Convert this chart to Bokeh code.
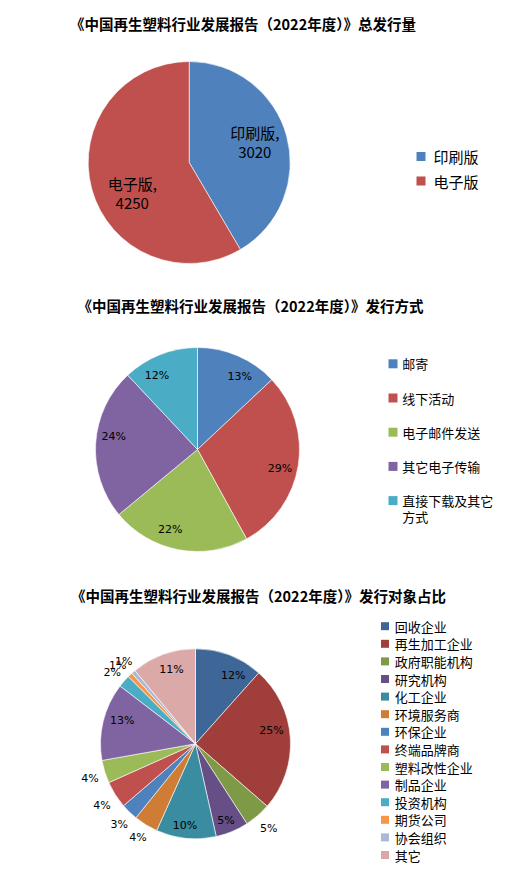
import math
from bokeh.plotting import figure
from bokeh.models import Range1d
from bokeh.core.properties import value
from bokeh.embed import file_html
from bokeh.resources import INLINE

# ---------------- data ----------------
title1 = "《中国再生塑料行业发展报告（2022年度）》总发行量"
edition_names = ["印刷版", "电子版"]
edition_counts = [3020, 4250]
edition_colors = ["#4F81BD", "#C0504D"]

title2 = "《中国再生塑料行业发展报告（2022年度）》发行方式"
channel_names = ["邮寄", "线下活动", "电子邮件发送", "其它电子传输", "直接下载及其它方式"]
channel_pct = [13, 29, 22, 24, 12]
channel_colors = ["#4F81BD", "#C0504D", "#9BBB59", "#8064A2", "#4BACC6"]

title3 = "《中国再生塑料行业发展报告（2022年度）》发行对象占比"
audience_names = ["回收企业", "再生加工企业", "政府职能机构", "研究机构", "化工企业",
                  "环境服务商", "环保企业", "终端品牌商", "塑料改性企业", "制品企业",
                  "投资机构", "期货公司", "协会组织", "其它"]
audience_share = [11.6, 24.8, 4.5, 5.6, 10.2, 4.1, 2.9, 4.6, 3.9, 13.2, 2.1, 0.8, 0.7, 11.0]
audience_labels = ["12%", "25%", "5%", "5%", "10%", "4%", "3%", "4%", "4%", "13%",
                   "2%", "1%", "1%", "11%"]
audience_colors = ["#3E6797", "#9F3E3B", "#7F9A47", "#664E86", "#3A8DA1", "#CF7D36",
                   "#4F81BD", "#C0504D", "#9BBB59", "#8064A2", "#4BACC6", "#F79646",
                   "#AAB9D8", "#DAA9A8"]

# ---------------- page ----------------
PAGE_H = 877
W, H = 502, 869
CJK = "Noto Sans CJK SC"
NUM = "DejaVu Sans"

p = figure(width=W, height=H, output_backend="svg", toolbar_location=None,
           x_range=Range1d(0, W), y_range=Range1d(PAGE_H - H, PAGE_H),
           x_axis_location=None, y_axis_location=None, min_border=0)
p.outline_line_color = None
p.xgrid.visible = False
p.ygrid.visible = False
p.background_fill_color = "white"
p.border_fill_color = "white"


def Y(py):
    return PAGE_H - py


def pie(cx, cy, r, vals, colors):
    total = float(sum(vals))
    cum = 0.0
    mids = []
    sa, ea = [], []
    for v in vals:
        f0 = cum / total
        cum += v
        f1 = cum / total
        sa.append(math.pi / 2 - 2 * math.pi * f0)
        ea.append(math.pi / 2 - 2 * math.pi * f1)
        mids.append(360.0 * (f0 + f1) / 2)
    p.wedge(x=[cx] * len(vals), y=[Y(cy)] * len(vals), radius=r,
            start_angle=sa, end_angle=ea, direction="clock",
            fill_color=colors, line_color="white", line_width=0.6)
    return mids


def polar(cx, cy, r, deg, frac):
    t = math.radians(deg)
    return cx + frac * r * math.sin(t), Y(cy) + frac * r * math.cos(t)


def txt(x, y, s, font, size, align="center", bold=False):
    p.text(x=[x], y=[y], text=[s], text_font=value(font), text_font_size=size,
           text_align=align, text_baseline="middle", text_color="black",
           text_font_style="bold" if bold else "normal")


# ---------------- chart 1 ----------------
txt(242.5, Y(23), title1, CJK, "14.5px", bold=True)
c1x, c1y, r1 = 188.7, 162.0, 101.0
mids1 = pie(c1x, c1y, r1, edition_counts, edition_colors)
nudge1 = [-2.0, -13.0]
frac1 = [0.68, 0.64]
for name, cnt, m, n, f in zip(edition_names, edition_counts, mids1, nudge1, frac1):
    lx, ly = polar(c1x, c1y, r1, m + n, f)
    txt(lx, ly + 10, name + ",", CJK, "15px")
    txt(lx, ly - 10, str(cnt), CJK, "15px")
for i, (name, col) in enumerate(zip(edition_names, edition_colors)):
    yy = Y(156 + i * 24.5)
    p.rect(x=[420.5], y=[yy], width=9, height=9, fill_color=col, line_color=None)
    txt(433, yy, name, CJK, "15px", align="left")

# ---------------- chart 2 ----------------
txt(250, Y(305), title2, CJK, "14.5px", bold=True)
c2x, c2y, r2 = 197.0, 449.0, 102.0
mids2 = pie(c2x, c2y, r2, channel_pct, channel_colors)
nudge2 = [6.5, 4.0, 8.0, 5.0, -7.0]
for v, m, n in zip(channel_pct, mids2, nudge2):
    lx, ly = polar(c2x, c2y, r2, m + n, 0.83)
    txt(lx, ly, f"{v}%", NUM, "11px")
for i, (name, col) in enumerate(zip(channel_names, channel_colors)):
    yy = Y(363.3 + i * 34.2)
    p.rect(x=[392.5], y=[yy], width=9, height=9, fill_color=col, line_color=None)
    lines = [name[:7], name[7:]] if len(name) > 7 else [name]
    for k, ln in enumerate(lines):
        txt(401.7, yy - k * 15.5, ln, CJK, "13px", align="left")

# ---------------- chart 3 ----------------
txt(258, Y(595), title3, CJK, "14.5px", bold=True)
c3x, c3y, r3 = 195.0, 743.3, 95.0
mids3 = pie(c3x, c3y, r3, audience_share, audience_colors)
frac3 = [0.82, 0.81, 1.18, 0.87, 0.87, 1.16, 1.17, 1.18, 1.17, 0.81, 1.15, 1.16, 1.15, 0.82]
nudge3 = [8.0, -6.0, 0.0, 1.0, 1.6, 0.0, -0.7, -1.0, -1.2, 4.0, -0.8, -1.4, -0.2, 1.8]
for lab, m, f, n in zip(audience_labels, mids3, frac3, nudge3):
    lx, ly = polar(c3x, c3y, r3, m + n, f)
    txt(lx, ly, lab, NUM, "11px")
for i, (name, col) in enumerate(zip(audience_names, audience_colors)):
    yy = Y(625.7 + i * 17.6)
    p.rect(x=[384.5], y=[yy], width=8, height=8, fill_color=col, line_color=None)
    txt(394.3, yy, name, CJK, "13px", align="left")

open("out.html", "w").write(file_html(p, INLINE))
